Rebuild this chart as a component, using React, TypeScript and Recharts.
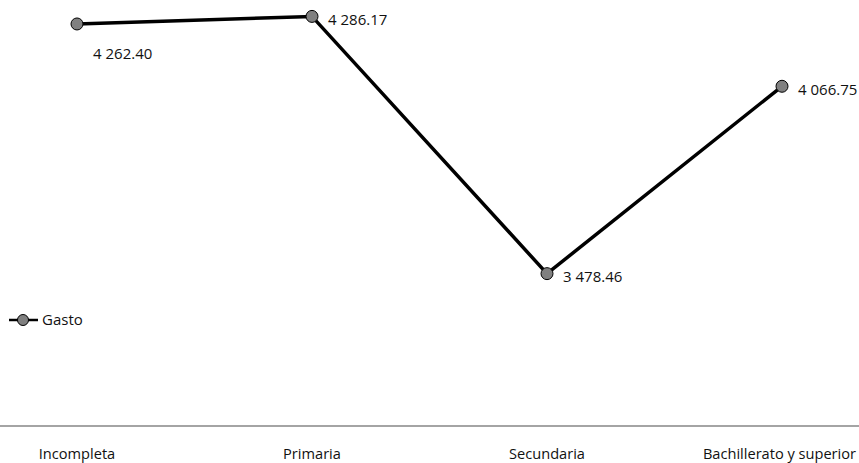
import { LineChart, Line, XAxis, YAxis, LabelList } from "recharts";

const categories = ["Incompleta", "Primaria", "Secundaria", "Bachillerato y superior"];
const gasto = [4262.4, 4286.17, 3478.46, 4066.75];
const seriesName = "Gasto";

const data = categories.map((c, i) => ({ name: c, gasto: gasto[i] }));

const FONT = "'Open Sans', Lato, sans-serif";
const W = 859;

function formatValue(v: number) {
  const [int, dec] = v.toFixed(2).split(".");
  return int.replace(/\B(?=(\d{3})+(?!\d))/g, " ") + "." + dec;
}

function ValueLabel(props: any) {
  const { x, y, value, index } = props;
  // first label sits below the point, the rest to the right
  const below = index === 0;
  return (
    <text x={x + 16} y={below ? y + 35 : y + 8.5} fontSize={15} fontFamily={FONT} fill="#111">
      {formatValue(value)}
    </text>
  );
}

function CategoryTick(props: any) {
  const { x, y, payload, index } = props;
  // keep the last label inside the chart, like the original
  const last = index === categories.length - 1;
  return (
    <text
      x={last ? W - 3 : x}
      y={y + 31}
      textAnchor={last ? "end" : "middle"}
      fontSize={14.6}
      fontFamily={FONT}
      fill="#111"
    >
      {payload.value}
    </text>
  );
}

export default function App() {
  return (
    <div style={{ position: "absolute", left: 0, top: 0, background: "#fff", width: W, height: 463 }}>
      <LineChart width={W} height={463} data={data} margin={{ top: 12, right: 0, bottom: 6, left: 0 }}>
        <XAxis
          dataKey="name"
          padding={{ left: 77, right: 77 }}
          axisLine={{ stroke: "#868686", strokeWidth: 1.5 }}
          tickLine={false}
          tickSize={0}
          height={31}
          interval={0}
          tick={<CategoryTick />}
        />
        <YAxis hide domain={[3000, 4300]} />
        <Line
          dataKey="gasto"
          name={seriesName}
          stroke="#000"
          strokeWidth={3.5}
          isAnimationActive={false}
          dot={{ r: 6, fill: "#808080", stroke: "#000", strokeWidth: 1 }}
        >
          <LabelList dataKey="gasto" content={<ValueLabel />} />
        </Line>
      </LineChart>
      <svg width={100} height={20} style={{ position: "absolute", left: 0, top: 310 }}>
        <line x1={9} y1={10} x2={38} y2={10} stroke="#000" strokeWidth={2.5} />
        <circle cx={23} cy={10} r={5.5} fill="#808080" stroke="#000" strokeWidth={1} />
        <text x={42} y={15} fontSize={15} fontFamily={FONT} fill="#111">
          {seriesName}
        </text>
      </svg>
    </div>
  );
}
